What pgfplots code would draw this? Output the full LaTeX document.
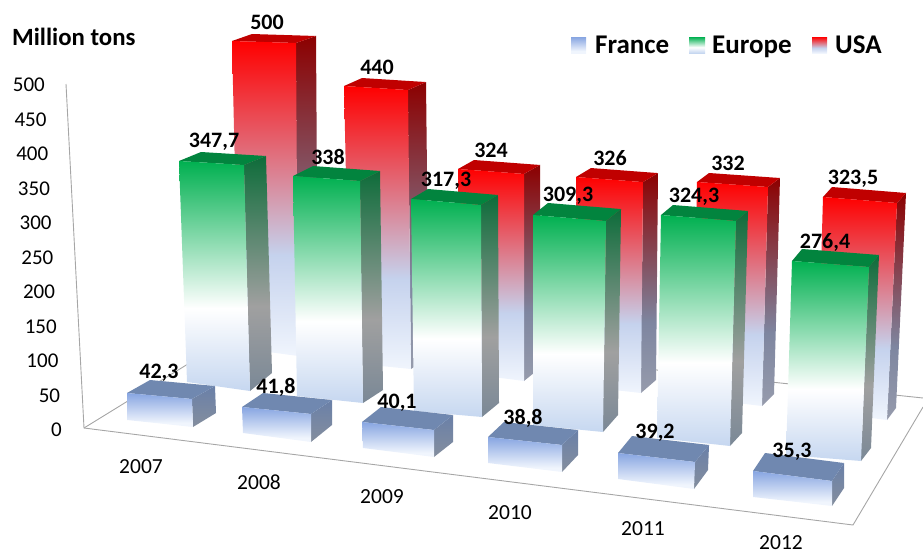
\documentclass[border=0pt]{standalone}
\usepackage{fontspec}
\setmainfont{Carlito}
\usepackage{pgfplots}
\usepackage{pgfplotstable}
\pgfplotsset{compat=1.18}

% colours of the faces
\definecolor{eurotop}{RGB}{0,176,80}
\definecolor{eurolid}{RGB}{2,132,62}
\definecolor{euroside}{RGB}{14,108,58}
\definecolor{usatop}{RGB}{255,0,0}
\definecolor{usalid}{RGB}{192,0,0}
\definecolor{usaside}{RGB}{140,0,0}
\definecolor{paleblue}{RGB}{198,215,240}
\definecolor{lavender}{RGB}{197,210,237}
\definecolor{frtop}{RGB}{135,165,225}
\definecolor{frbot}{RGB}{240,245,253}
\definecolor{frlid}{RGB}{112,136,176}
\definecolor{frside}{RGB}{106,128,168}
\definecolor{frsideb}{RGB}{132,142,158}
\definecolor{sidegrey}{RGB}{160,160,160}
\definecolor{sidebase}{RGB}{122,136,150}
\definecolor{usasideb}{RGB}{150,155,172}
\definecolor{usasidem}{RGB}{126,134,160}

% the path's bounding box runs from 25bp to 75bp
\pgfdeclareverticalshading{eurofront}{100bp}{color(0bp)=(paleblue); color(25bp)=(paleblue); color(43bp)=(white); color(75bp)=(eurotop); color(100bp)=(eurotop)}
\pgfdeclareverticalshading{euroflank}{100bp}{color(0bp)=(sidebase); color(25bp)=(sidebase); color(43bp)=(sidegrey); color(75bp)=(euroside); color(100bp)=(euroside)}
\pgfdeclareverticalshading{usafront}{100bp}{color(0bp)=(frbot); color(25bp)=(frbot); color(41bp)=(lavender); color(75bp)=(usatop); color(100bp)=(usatop)}
\pgfdeclareverticalshading{usaflank}{100bp}{color(0bp)=(usasideb); color(25bp)=(usasideb); color(41bp)=(usasidem); color(75bp)=(usaside); color(100bp)=(usaside)}
\pgfdeclareverticalshading{frfront}{100bp}{color(0bp)=(frbot); color(25bp)=(frbot); color(31bp)=(frbot); color(75bp)=(frtop); color(100bp)=(frtop)}
\pgfdeclareverticalshading{frflank}{100bp}{color(0bp)=(frsideb); color(25bp)=(frsideb); color(75bp)=(frside); color(100bp)=(frside)}

% value, then where the bar stands in the picture: base corners, px per unit
% on the left and right edge, lean per unit, depth, label centre
\pgfplotstableread{
year value  xl  yl  xr  yr  kl    kr    sl     sr     dx dyt dyb lx  ly
2007 500    239 348 298 356 .614  .626  -.014  -.004  20 -7  -12 267 22
2008 440    350 363 411 369 .6295 .634  -.0136 -.0068 18 -8  -12 377 67
2009 324    462 373 524 381 .6296 .639  -.0123 0      16 -9  -13 491 150
2010 326    578 386 641 393 .641  .647  -.0061 .0061  15 -9  -13 610 158
2011 332    694 398 762 406 .6506 .6596 .009   .018   12 -9  -12 728 163
2012 323.5  817 411 887 420 .6615 .6708 .0185  .0309  9  -10 -12 853 179
}\usatable
\pgfplotstableread{
year value  xl  yl  xr  yr  kl    kr    sl     sr     dx dyt dyb lx  ly
2007 347.7  187 382 250 391 .6356 .650  -.023  -.0173 22 -9  -18 214 142
2008 338    297 396 363 403 .6509 .6568 -.0118 -.0089 20 -10 -13 328 157
2009 317.3  414 411 482 417 .6681 .6681 -.0095 -.0032 17 -10 -14 446 181
2010 309.3  533 425 603 432 .679  .682  0      .0097  15 -12 -17 568 196
2011 324.3  657 438 730 446 .6876 .6938 .0123  .0185  12 -10 -13 694 197
2012 276.4  786 455 861 461 .7019 .7019 .0217  .0289  10 -12 -13 825 242
}\eurotable
\pgfplotstableread{
year value  xl  yl  xr  yr  kl    kr    sl     sr     dx dyt dyb lx  ly
2007 42.3   127 420 193 427 .638  .662  0      -.024  23 -13 -14 159 373
2008 41.8   243 433 311 442 .622  .670  -.024  0      21 -14 -17 276 387
2009 40.1   363 448 434 457 .648  .673  -.025  0      19 -15 -15 397 403
2010 38.8   488 463 562 472 .670  .696  0      0      16 -15 -17 523 418
2011 39.2   618 479 694 489 .663  .689  0      .026   14 -17 -19 655 433
2012 35.3   753 497 832 506 .737  .708  0      0      12 -18 -18 792 452
}\frtable

\newcommand{\getcol}[3]{\pgfplotstablegetelem{#2}{#3}\of{#1}\expandafter\let\csname B#3\endcsname\pgfplotsretval}

% #1 table, #2 front shading, #3 flank shading, #4 lid colour
\newcommand{\drawrow}[4]{%
  \pgfplotsforeachungrouped \r in {0,...,5}{%
    \getcol{#1}{\r}{value}\getcol{#1}{\r}{xl}\getcol{#1}{\r}{yl}%
    \getcol{#1}{\r}{xr}\getcol{#1}{\r}{yr}\getcol{#1}{\r}{kl}%
    \getcol{#1}{\r}{kr}\getcol{#1}{\r}{sl}\getcol{#1}{\r}{sr}%
    \getcol{#1}{\r}{dx}\getcol{#1}{\r}{dyt}\getcol{#1}{\r}{dyb}%
    \getcol{#1}{\r}{lx}\getcol{#1}{\r}{ly}%
    \pgfmathsetmacro\tlx{\Bxl+\Bsl*\Bvalue}%
    \pgfmathsetmacro\tly{\Byl-\Bkl*\Bvalue}%
    \pgfmathsetmacro\trx{\Bxr+\Bsr*\Bvalue}%
    \pgfmathsetmacro\try{\Byr-\Bkr*\Bvalue}%
    \pgfmathsetmacro\btlx{\tlx+\Bdx}%
    \pgfmathsetmacro\btly{\tly+\Bdyt}%
    \pgfmathsetmacro\btrx{\trx+\Bdx}%
    \pgfmathsetmacro\btry{\try+\Bdyt}%
    \pgfmathsetmacro\bbrx{\Bxr+\Bdx}%
    \pgfmathsetmacro\bbry{\Byr+\Bdyb}%
    \edef\barcmd{%
      \noexpand\addplot[shade, shading=#3, draw=none] coordinates {(\Bxr,\Byr) (\trx,\try) (\btrx,\btry) (\bbrx,\bbry) (\Bxr,\Byr)};
      \noexpand\addplot[fill=#4, draw=none] coordinates {(\tlx,\tly) (\trx,\try) (\btrx,\btry) (\btlx,\btly) (\tlx,\tly)};
      \noexpand\addplot[shade, shading=#2, draw=none] coordinates {(\Bxl,\Byl) (\tlx,\tly) (\trx,\try) (\Bxr,\Byr) (\Bxl,\Byl)};
      \noexpand\node[font=\noexpand\datafont] at (axis cs:\Blx,\Bly) {\noexpand\pgfmathprintnumber[use comma, /pgf/number format/assume math mode=true]{\Bvalue}};
    }\barcmd
  }%
}
\newcommand{\datafont}{\fontsize{22}{22}\selectfont\bfseries}
\newcommand{\legfont}{\fontsize{27}{27}\selectfont\bfseries}
\newcommand{\yearfont}{\fontsize{21.5}{21.5}\selectfont}

\begin{document}
\begin{tikzpicture}
\path[use as bounding box] (0,0) rectangle (923pt,554pt);
\begin{axis}[
    at={(0,0)}, anchor=south west,
    scale only axis,
    width=923pt, height=554pt,
    xmin=0, xmax=923, ymin=0, ymax=554,
    y dir=reverse,
    hide axis,
    clip=false,
]
% walls and floor
\addplot[gray!70, line width=0.9pt] coordinates {(66,84) (84,428) (853,525) (923,407)};
\addplot[gray!70, line width=0.9pt] coordinates {(84,428) (248,327) (923,398)};

\drawrow{\usatable}{usafront}{usaflank}{usalid}
\drawrow{\eurotable}{eurofront}{euroflank}{eurolid}
\drawrow{\frtable}{frfront}{frflank}{frlid}

% value axis labels
\pgfplotsinvokeforeach{0,50,...,500}{%
  \node[anchor=east, inner sep=0pt, font=\fontsize{21}{21}\selectfont] at ({62-#1*17/500},{430-#1*0.69}) {#1};
}
\node[inner sep=0pt, font=\yearfont] at (141,467) {2007};
\node[inner sep=0pt, font=\yearfont] at (259,482) {2008};
\node[inner sep=0pt, font=\yearfont] at (382,497) {2009};
\node[inner sep=0pt, font=\yearfont] at (510,513) {2010};
\node[inner sep=0pt, font=\yearfont] at (643,529) {2011};
\node[inner sep=0pt, font=\yearfont] at (781,543) {2012};

\node[anchor=west, inner sep=0pt, font=\fontsize{24.8}{24.8}\selectfont\bfseries] at (12,37) {Million tons};

% legend
\path[shade, shading=frfront] (571,37) rectangle (586,53);
\node[anchor=base west, inner sep=0pt, font=\legfont] at (595,53) {France};
\path[shade, shading=eurofront] (689,37) rectangle (705,53);
\node[anchor=base west, inner sep=0pt, font=\legfont] at (712,53) {Europe};
\path[shade, shading=usafront] (812,37) rectangle (827,53);
\node[anchor=base west, inner sep=0pt, font=\legfont] at (835,53) {USA};
\end{axis}
\end{tikzpicture}
\end{document}
